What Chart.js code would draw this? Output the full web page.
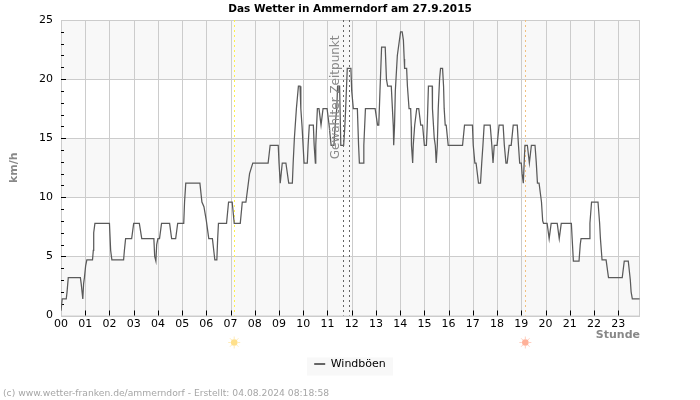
<!DOCTYPE html>
<html><head><meta charset="utf-8">
<style>html,body{margin:0;padding:0;background:#fff}canvas{display:block}</style>
<script src="https://cdn.jsdelivr.net/npm/chart.js@4"></script></head>
<body><canvas id="c" width="700" height="400"></canvas>
<script>
const hourLabels=["00","01","02","03","04","05","06","07","08","09","10","11","12","13","14","15","16","17","18","19","20","21","22","23"];
const gustMinutes=[
0,3,13,15,18,48,50,54,56,58,61,64,78,80,81,84,120,123,126,155,157,160,175,180,194,200,230,232,235,237,240,244,249,269,274,284,289,304,306,309,344,349,354,360,366,375,381,386,388,390,410,415,424,
429,444,449,458,464,467,475,513,518,538,540,543,548,557,564,573,575,578,583,588,592,594,597,602,610,612,615,625,627,630,631,633,635,639,644,649,659,664,669,676,679,683,685,690,693,700,703,705,709,718,720,724,734,737,739,748,750,754,778,784,787,790,794,803,806,809,818,823,824,826,828,833,837,841,845,
848,850,851,856,858,862,866,867.5,868,871,872.4,876,881,886,891,895.5,900,905,907,910,919.4,920,924.4,927,929.3,932,934.3,937.6,940,945,947.5,949,951.6,954,959,994.5,999.4,1019,1021,1025,1028,1034,1039,1042,1045,1048,1063,1067,1070,1073,1080,1085,1095,1098,1102,1105,1110,1115,1120,1130,1133,1136,1140,1142,1145,1149,1155,1160,1165,
1174,1177,1180,1184,1190,1193,1195,1204,1209,1214,1229,1234,1239,1264,1266,1269,1283,1286,1288,1308,1310,1314,1330,1334,1336,1340,1350,1356,1390,1395,1405,1410,1412,1415,1433];
const gustValues=[
0.4,1.4,1.4,2,3.2,3.2,2.7,1.4,2.7,3.2,4.2,4.7,4.7,5.5,7,7.8,7.8,5.5,4.7,4.7,5.5,6.5,6.5,7.8,7.8,6.5,6.5,5,4.6,6,6.5,6.5,7.8,7.8,6.5,6.5,7.8,7.8,9.6,11.2,11.2,9.6,9.2,8,6.5,6.5,4.7,4.7,6.5,7.8,7.8,9.6,9.6,
7.8,7.8,9.6,9.6,11.2,12,12.9,12.9,14.4,14.4,12.9,11.2,12.9,12.9,11.2,11.2,12.9,15,17.5,19.4,19.4,17.5,16,12.9,12.9,14.4,16.1,16.1,14.4,12.9,14.4,16,17.5,17.5,16.1,17.5,17.5,16.1,14.4,14.4,16.1,17.5,19.4,19.4,14.4,14.4,16,17.5,20.9,20.9,19,17.5,17.5,14.4,12.9,12.9,14.4,17.5,17.5,16.1,16.1,19,22.7,22.7,20,19.4,19.4,16,14.4,16,19,22,23,24,24,
23.3,21.7,20.9,20.9,19.4,17.5,17.5,16,14.4,12.9,14.4,16.1,17.5,17.5,16.1,16.1,14.4,14.4,16,19.4,19.4,17.5,15,14.4,12.9,14.4,17.5,20,20.9,20.9,19.4,17.5,16.1,16.1,14.4,14.4,16.1,16.1,14.4,12.9,12.9,11.2,11.2,12.9,14.4,16.1,16.1,14.4,12.9,14.4,14.4,16.1,16.1,14.4,12.9,12.9,14.4,14.4,16.1,16.1,14.4,12.9,12.9,12,11.2,14.4,14.4,12.9,14.4,
14.4,13,11.2,11.2,9.6,8,7.8,7.8,6.5,7.8,7.8,6.5,7.8,7.8,6.5,4.6,4.6,6,6.5,6.5,7.8,9.6,9.6,7.8,6.5,4.7,4.7,3.2,3.2,4.6,4.6,3,2,1.4,1.4];
const sunMarks=[{minute:429,line:"#fff04a",body:"#ffe08a"},{minute:1150,line:"#f2c080",body:"#ffb199"}];
const selectedMinutes=[698,713];
const yMinorTicks=[1,2,3,4,6,7,8,9,11,12,13,14,16,17,18,19,21,22,23,24];
const bands=[[0,5],[10,15],[20,25]];

const F='"DejaVu Sans"';
const deco={id:'deco',
 beforeDraw(ch){const {ctx,legend}=ch;
  ctx.save();ctx.fillStyle='#f8f8f8';
  const cy=(legend.top+legend.bottom)/2;
  ctx.fillRect(307,cy-9,86,18);ctx.restore();},
 beforeDatasetsDraw(ch){const {ctx,chartArea:a,scales:{x,y}}=ch;ctx.save();
  ctx.fillStyle='#f8f8f8';
  bands.forEach(b=>{const t=y.getPixelForValue(b[1]),u=y.getPixelForValue(b[0]);ctx.fillRect(a.left,t,a.right-a.left,u-t);});
  ctx.strokeStyle='#cccccc';ctx.lineWidth=1;
  for(let v=0;v<=25;v+=5){const p=Math.round(y.getPixelForValue(v))+.5;ctx.beginPath();ctx.moveTo(a.left,p);ctx.lineTo(a.right,p);ctx.stroke();}
  hourLabels.forEach((l,i)=>{if(!i)return;const p=Math.round(x.getPixelForValue(i*60))+.5;ctx.beginPath();ctx.moveTo(p,a.top);ctx.lineTo(p,a.bottom);ctx.stroke();});
  ctx.strokeRect(a.left+.5,a.top+.5,a.right-a.left-1,a.bottom-a.top);
  ctx.strokeStyle='#000';
  for(let v=5;v<=20;v+=5){const p=Math.round(y.getPixelForValue(v))+.5;ctx.beginPath();ctx.moveTo(a.left,p);ctx.lineTo(a.left+5,p);ctx.stroke();}
  yMinorTicks.forEach(v=>{const p=Math.round(y.getPixelForValue(v))+.5;ctx.beginPath();ctx.moveTo(a.left,p);ctx.lineTo(a.left+3,p);ctx.stroke();});
  hourLabels.forEach((l,i)=>{if(!i)return;const p=Math.round(x.getPixelForValue(i*60))+.5;ctx.beginPath();ctx.moveTo(p,a.bottom);ctx.lineTo(p,a.bottom-5);ctx.stroke();});
  ctx.setLineDash([2,3]);
  sunMarks.forEach(s=>{const p=Math.round(x.getPixelForValue(s.minute))+.5;ctx.strokeStyle=s.line;ctx.beginPath();ctx.moveTo(p,a.top);ctx.lineTo(p,a.bottom);ctx.stroke();});
  ctx.strokeStyle='#666';
  selectedMinutes.forEach(m=>{const p=Math.round(x.getPixelForValue(m))+.5;ctx.beginPath();ctx.moveTo(p,a.top);ctx.lineTo(p,a.bottom);ctx.stroke();});
  ctx.setLineDash([]);
  sunMarks.forEach(s=>{const p=x.getPixelForValue(s.minute),q=a.bottom+27;
   ctx.fillStyle=s.body;ctx.beginPath();ctx.arc(p,q,3.3,0,7);ctx.fill();
   ctx.strokeStyle=s.body;ctx.globalAlpha=.6;
   for(let k=0;k<8;k++){const t=k*Math.PI/4;ctx.beginPath();ctx.moveTo(p+Math.cos(t)*3.5,q+Math.sin(t)*3.5);ctx.lineTo(p+Math.cos(t)*6,q+Math.sin(t)*6);ctx.stroke();}
   ctx.globalAlpha=1;});
  ctx.restore();},
 afterDraw(ch){const {ctx,scales:{x,y}}=ch;ctx.save();
  ctx.translate(x.getPixelForValue(selectedMinutes[0])-7,y.getPixelForValue(23.7));
  ctx.rotate(-Math.PI/2);ctx.textAlign='center';ctx.textBaseline='middle';
  ctx.font='12px '+F;ctx.fillStyle='#8a8a8a';ctx.fillText('Gewählter Zeitpunkt',-62,0);ctx.restore();
  ctx.save();ctx.font='9.2px '+F;ctx.fillStyle='#a6a6a6';ctx.textBaseline='middle';
  ctx.fillText('(c) www.wetter-franken.de/ammerndorf - Erstellt: 04.08.2024 08:18:58',3,393.5);ctx.restore();}
};
new Chart(document.getElementById('c'),{type:'line',
 data:{datasets:[{label:'Windböen',data:gustMinutes.map((m,i)=>({x:m,y:gustValues[i]})),borderColor:'#5a5a5a',backgroundColor:'#5a5a5a',borderWidth:1.25,pointRadius:0,tension:0}]},
 plugins:[deco],
 options:{responsive:false,animation:false,devicePixelRatio:1,
  layout:{padding:{left:0,right:0,top:0,bottom:20.5}},
  plugins:{tooltip:{enabled:false},
   title:{display:true,text:'Das Wetter in Ammerndorf am 27.9.2015',color:'#000',font:{family:F,size:10.5,weight:'bold'},padding:{top:3,bottom:4.4}},
   legend:{position:'bottom',labels:{usePointStyle:true,pointStyle:'line',pointStyleWidth:11,boxWidth:12,boxHeight:11,padding:5,color:'#000',font:{family:F,size:11},
     generateLabels(ch){const l=Chart.defaults.plugins.legend.labels.generateLabels(ch);l.forEach(i=>{i.lineWidth=2;i.strokeStyle='#666';});return l;}}}},
  scales:{
   x:{type:'linear',min:0,max:1434,afterFit(s){s.height=38;},
    grid:{display:false,drawTicks:false},border:{display:false},
    title:{display:true,text:'Stunde',align:'end',color:'#888',font:{family:F,size:11,weight:'bold'},padding:{top:0,bottom:12}},
    ticks:{stepSize:60,includeBounds:false,maxRotation:0,autoSkip:false,color:'#000',padding:2,font:{family:F,size:11},callback:v=>hourLabels[v/60]}},
   y:{min:0,max:25,afterFit(s){s.width=61;},
    grid:{display:false,drawTicks:false},border:{display:false},
    title:{display:true,text:'km/h',color:'#888',font:{family:F,size:11,weight:'bold'},padding:{top:8,bottom:0}},
    ticks:{stepSize:5,color:'#000',padding:8,font:{family:F,size:11}}},
   y2:{position:'right',display:true,min:0,max:25,afterFit(s){s.width=60;},
    grid:{display:false,drawTicks:false},border:{display:false},ticks:{display:false}}
  }}});
</script></body></html>
